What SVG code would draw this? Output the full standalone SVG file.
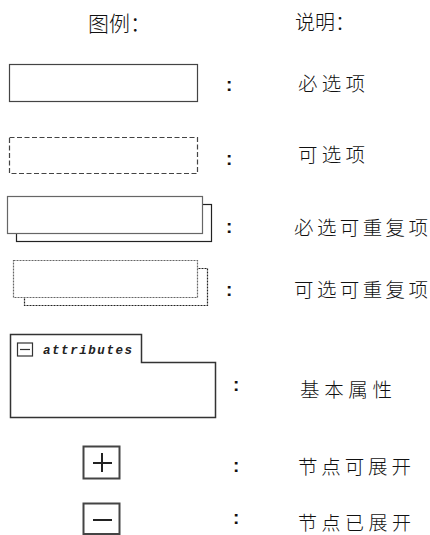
<svg xmlns="http://www.w3.org/2000/svg" width="430" height="535" viewBox="0 0 430 535">
<style>
.box{fill:#fff;stroke:#444;stroke-width:1.2}
.front{fill:#fff;stroke:#666;stroke-width:1.2}
.shadow{fill:#fff;stroke:#222;stroke-width:1.2}
.dash{stroke-dasharray:5,2.5}
.dot{stroke-dasharray:2,1}
.icon{fill:#fff;stroke:#444;stroke-width:2}
.sign{stroke:#222;stroke-width:2}
.cjk{font-family:"Noto Sans CJK SC","Noto Sans",sans-serif;font-weight:300;fill:#111}
.colon{font-family:"Liberation Sans",Arial,sans-serif;font-weight:bold;font-size:19px;fill:#111}
.attr{font-family:"Liberation Mono",monospace;font-style:italic;font-weight:bold;font-size:12.5px;fill:#222}
</style>
<rect width="430" height="535" fill="#fff"/>
<g id="header">
<text class="cjk" x="88" y="30.5" font-size="21">图例：</text>
<text class="cjk" x="295" y="29.5" font-size="20">说明：</text>
</g>
<g id="required">
<rect class="box" x="9.5" y="64.5" width="188" height="37"/>
<text class="colon" x="226" y="91">:</text>
<text class="cjk" x="298" y="91" font-size="19.5" textLength="67" lengthAdjust="spacing">必选项</text>
</g>
<g id="optional">
<rect class="box dash" x="9.5" y="137.5" width="188" height="36"/>
<text class="colon" x="226" y="164.5">:</text>
<text class="cjk" x="298" y="162" font-size="19.5" textLength="67" lengthAdjust="spacing">可选项</text>
</g>
<g id="required-repeat">
<rect class="shadow" x="16.5" y="204.5" width="195" height="37"/>
<rect class="front" x="7.5" y="196.5" width="195" height="37"/>
<text class="colon" x="226" y="232.5">:</text>
<text class="cjk" x="294" y="234.5" font-size="19.5" textLength="134" lengthAdjust="spacing">必选可重复项</text>
</g>
<g id="optional-repeat">
<rect class="shadow dot" x="24.5" y="268.5" width="183" height="37"/>
<rect class="front dot" x="13.5" y="260.5" width="184" height="37"/>
<text class="colon" x="226" y="295.5">:</text>
<text class="cjk" x="294" y="297" font-size="19.5" textLength="134" lengthAdjust="spacing">可选可重复项</text>
</g>
<g id="attributes">
<path d="M10.5,334.5 H141.5 V362.5 H215.5 V417.5 H10.5 Z" fill="#fff" stroke="#333" stroke-width="1.5"/>
<rect x="17.5" y="343" width="15" height="13" fill="#fff" stroke="#333" stroke-width="1.2"/>
<line x1="20" y1="349.5" x2="30" y2="349.5" stroke="#333" stroke-width="1.2"/>
<text class="attr" x="43" y="353.5" textLength="89" lengthAdjust="spacing">attributes</text>
<text class="colon" x="233" y="390.5">:</text>
<text class="cjk" x="300" y="396.5" font-size="19.5" textLength="92" lengthAdjust="spacing">基本属性</text>
</g>
<g id="expandable">
<rect class="icon" x="83.5" y="446.5" width="36" height="32"/>
<line class="sign" x1="93" y1="463" x2="112" y2="463"/>
<line class="sign" x1="102" y1="453" x2="102" y2="472"/>
<text class="colon" x="233" y="472">:</text>
<text class="cjk" x="298" y="473.5" font-size="19.5" textLength="113" lengthAdjust="spacing">节点可展开</text>
</g>
<g id="expanded">
<rect class="icon" x="83.5" y="503.5" width="36" height="30.5"/>
<line class="sign" x1="93" y1="520" x2="112" y2="520"/>
<text class="colon" x="233" y="524">:</text>
<text class="cjk" x="298" y="529.5" font-size="19" textLength="113" lengthAdjust="spacing">节点已展开</text>
</g>
</svg>
